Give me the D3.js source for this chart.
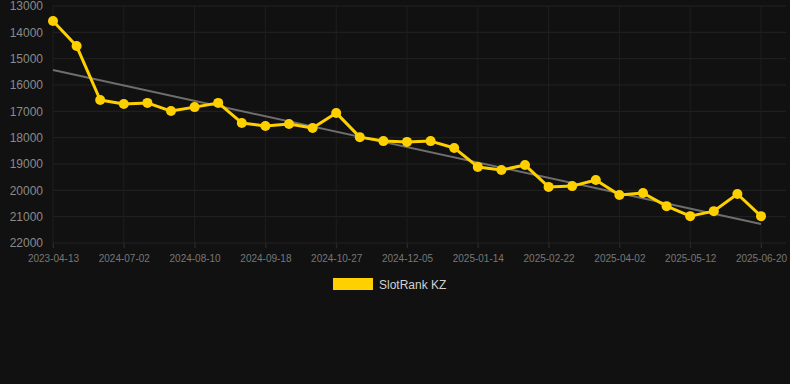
<!DOCTYPE html>
<html><head><meta charset="utf-8">
<script src="https://cdn.jsdelivr.net/npm/d3@7"></script>
<style>
html,body{margin:0;padding:0;background:#111111;}
svg{display:block;font-family:"Liberation Sans",Arial,sans-serif;}
</style></head>
<body><svg id="c" width="790" height="384"></svg>
<script>
const dates = ["2023-04-13","2024-06-06","2024-06-19","2024-07-02","2024-07-15","2024-07-28","2024-08-10","2024-08-23","2024-09-05","2024-09-18","2024-10-01","2024-10-14","2024-10-27","2024-11-09","2024-11-22","2024-12-05","2024-12-18","2024-12-31","2025-01-14","2025-01-27","2025-02-09","2025-02-22","2025-03-07","2025-03-20","2025-04-02","2025-04-15","2025-04-28","2025-05-12","2025-05-25","2025-06-07","2025-06-20"];
const ranks = [13570,14520,16570,16720,16680,16990,16840,16680,17440,17560,17480,17630,17060,17980,18130,18160,18130,18390,19110,19230,19040,19870,19840,19610,20180,20100,20600,20980,20790,20140,20980];
const trend = [15430,21280];
const yTicks = [13000,14000,15000,16000,17000,18000,19000,20000,21000,22000];
const xTickLabels = ["2023-04-13","2024-07-02","2024-08-10","2024-09-18","2024-10-27","2024-12-05","2025-01-14","2025-02-22","2025-04-02","2025-05-12","2025-06-20"];
const seriesName = "SlotRank KZ";

const svg = d3.select("#c");
const plotL = 53, plotR = 761, gridR = 786, plotT = 6, plotB = 243;
const x = d3.scalePoint().domain(dates).range([plotL, plotR]);
const y = d3.scaleLinear().domain([13000, 22000]).range([plotT, plotB]);
const gold = "#FFD000";

// horizontal grid
svg.append("g").selectAll("line").data(yTicks).join("line")
  .attr("x1", plotL).attr("x2", gridR)
  .attr("y1", d => y(d)).attr("y2", d => y(d))
  .attr("stroke", "#232323").attr("stroke-width", 1);
// vertical grid
svg.append("g").selectAll("line").data(xTickLabels).join("line")
  .attr("x1", d => x(d)).attr("x2", d => x(d))
  .attr("y1", plotT).attr("y2", plotB + 5)
  .attr("stroke", "#1f1f1f").attr("stroke-width", 1);

// y axis
const yAxis = d3.axisLeft(y).tickValues(yTicks).tickSize(0).tickPadding(10).tickFormat(d3.format("d"));
const gy = svg.append("g").attr("transform", `translate(${plotL},0)`).call(yAxis);
gy.select(".domain").remove();
gy.selectAll("text").attr("fill", "#8a8a8a").attr("font-size", 12).attr("font-family", "Liberation Sans, Arial, sans-serif");

// x axis
const xAxis = d3.axisBottom(x).tickValues(xTickLabels).tickSize(5).tickPadding(7);
const gx = svg.append("g").attr("transform", `translate(0,${plotB})`).call(xAxis);
gx.select(".domain").remove();
gx.selectAll("line").attr("stroke", "#2a2a2a");
gx.selectAll("text").attr("fill", "#777").attr("font-size", 10).attr("font-family", "Liberation Sans, Arial, sans-serif");

// trend line
svg.append("line")
  .attr("x1", x(dates[0])).attr("y1", y(trend[0]))
  .attr("x2", x(dates[dates.length - 1])).attr("y2", y(trend[1]))
  .attr("stroke", "#6e6e6e").attr("stroke-width", 2);

// series line
const data = dates.map((d, i) => ({d, v: ranks[i]}));
svg.append("path").datum(data)
  .attr("fill", "none").attr("stroke", gold).attr("stroke-width", 3)
  .attr("stroke-linejoin", "round")
  .attr("d", d3.line().x(p => x(p.d)).y(p => y(p.v)));
svg.append("g").selectAll("circle").data(data).join("circle")
  .attr("cx", p => x(p.d)).attr("cy", p => y(p.v)).attr("r", 5)
  .attr("fill", gold);

// legend
const lg = svg.append("g");
lg.append("rect").attr("x", 333).attr("y", 278).attr("width", 40).attr("height", 12).attr("fill", gold);
lg.append("text").attr("x", 379).attr("y", 289).attr("fill", "#d0d0d0").attr("font-size", 12).text(seriesName);
</script></body></html>
